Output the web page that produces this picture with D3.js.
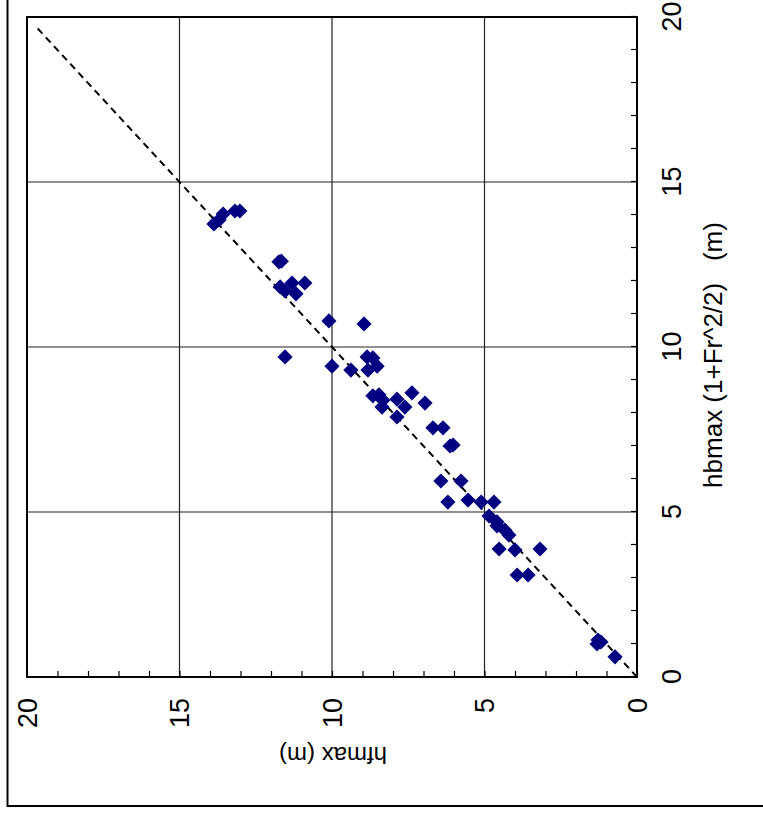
<!DOCTYPE html>
<html>
<head>
<meta charset="utf-8">
<script src="https://cdn.jsdelivr.net/npm/d3@7"></script>
<style>
  body { margin: 0; background: #fff; }
  text { font-family: "Liberation Sans", Arial, sans-serif; fill: #000; }
</style>
</head>
<body>
<script>
// hbmax(1+Fr^2/2) vs hfmax, drawn in normal orientation then turned -90deg
var hbmax = [13.73, 13.85, 14.03, 14.12, 14.12,
  12.58, 12.6, 11.82, 11.70, 11.94, 11.61, 11.94,
  10.79, 10.70, 9.70, 9.42, 9.30,
  9.70, 9.67, 9.30, 9.42,
  8.52, 8.55, 8.39, 8.18, 8.42, 8.18, 7.88, 8.61, 8.30,
  7.55, 7.55, 7.00, 7.03,
  5.94, 5.94, 5.30, 5.36, 5.30, 5.30, 4.88, 4.70,
  4.58, 4.45, 4.30, 3.88, 3.85, 3.88, 3.09, 3.09,
  1.12, 1.06, 1.00, 0.61];
var hfmax = [13.87, 13.70, 13.57, 13.18, 13.02,
  11.74, 11.66, 11.70, 11.54, 11.31, 11.18, 10.89,
  10.10, 8.95, 11.54, 10.00, 9.38,
  8.85, 8.66, 8.82, 8.52,
  8.66, 8.46, 8.33, 8.36, 7.87, 7.61, 7.87, 7.38, 6.95,
  6.69, 6.36, 6.13, 6.03,
  6.43, 5.77, 6.20, 5.54, 5.11, 4.69, 4.85, 4.59,
  4.59, 4.33, 4.20, 4.52, 4.00, 3.18, 3.93, 3.57,
  1.28, 1.18, 1.31, 0.72];
var refLine = [0, 19.7];
var majorTicks = [0, 5, 10, 15, 20];
var minorTicks = d3.range(0, 21, 1);
var xTitle = "hbmax (1+Fr^2/2)\u00a0\u00a0\u00a0(m)";
var yTitle = "hfmax (m)";

var points = hbmax.map(function(v, i){ return {hb: v, hf: hfmax[i]}; });

var w = 763, h = 816;
// plot box in the turned frame: length 660 along hbmax, 610 along hfmax
var pw = 660, ph = 610;

var svg = d3.select("body").append("svg")
    .attr("width", w)
    .attr("height", h);

// outer chart frame
svg.append("rect")
    .attr("x", 7.5).attr("y", -10)
    .attr("width", 780).attr("height", 816)
    .style("fill", "none")
    .style("stroke", "#000")
    .style("stroke-width", 2);

var g = svg.append("g")
    .attr("transform", "translate(27,677) rotate(-90)");

var x = d3.scaleLinear().domain([0, 20]).range([0, pw]);
var y = d3.scaleLinear().domain([0, 20]).range([ph, 0]);

// grid
g.selectAll(".vgrid").data([5, 10, 15]).enter().append("line")
    .attr("class", "vgrid")
    .attr("x1", function(d){ return x(d); }).attr("x2", function(d){ return x(d); })
    .attr("y1", 0).attr("y2", ph)
    .style("stroke", "#222").style("stroke-width", 1.2);
g.selectAll(".hgrid").data([5, 10, 15]).enter().append("line")
    .attr("class", "hgrid")
    .attr("x1", 0).attr("x2", pw)
    .attr("y1", function(d){ return y(d); }).attr("y2", function(d){ return y(d); })
    .style("stroke", "#222").style("stroke-width", 1.2);

// axes, minor ticks point inward
var xAxis = d3.axisBottom(x).tickValues(minorTicks).tickSize(-6)
    .tickFormat(function(d){ return majorTicks.indexOf(d) >= 0 ? d : ""; });
var yAxis = d3.axisLeft(y).tickValues(minorTicks).tickSize(-6)
    .tickFormat(function(d){ return majorTicks.indexOf(d) >= 0 ? d : ""; });

var gx = g.append("g").attr("transform", "translate(0," + ph + ")").call(xAxis);
var gy = g.append("g").call(yAxis);

[gx, gy].forEach(function(a){
  a.select(".domain").remove();
  a.selectAll(".tick line").style("stroke", "#000").style("stroke-width", 1.2);
  a.selectAll("text").style("font-size", "27px")
      .style("font-family", "'Liberation Sans', Arial, sans-serif");
});
gx.selectAll(".tick text").attr("y", 35).attr("dy", "0.35em");
gy.selectAll(".tick text").attr("x", -21).attr("dy", "0.35em");

// plot border
g.append("rect")
    .attr("x", 0).attr("y", 0).attr("width", pw).attr("height", ph)
    .style("fill", "none").style("stroke", "#000").style("stroke-width", 2);

// 1:1 line
var line = d3.line().x(function(d){ return x(d); }).y(function(d){ return y(d); });
g.append("path")
    .datum(refLine)
    .attr("d", line)
    .style("fill", "none")
    .style("stroke", "#000")
    .style("stroke-width", 2)
    .style("stroke-dasharray", "7,5");

// diamonds
var sym = d3.symbol().type(d3.symbolSquare).size(115);
g.selectAll(".pt").data(points).enter().append("path")
    .attr("class", "pt")
    .attr("d", sym)
    .attr("transform", function(d){
      return "translate(" + x(d.hb) + "," + y(d.hf) + ") rotate(45)";
    })
    .style("fill", "#000080");

// titles
g.append("text")
    .attr("x", 322).attr("y", 686)
    .attr("text-anchor", "middle")
    .attr("dy", "0.35em")
    .style("font-size", "26px")
    .text(xTitle);

g.append("text")
    .attr("transform", "translate(-78," + 306 + ") rotate(-90)")
    .attr("text-anchor", "middle")
    .attr("dy", "0.35em")
    .style("font-size", "24px")
    .text(yTitle);
</script>
</body>
</html>
